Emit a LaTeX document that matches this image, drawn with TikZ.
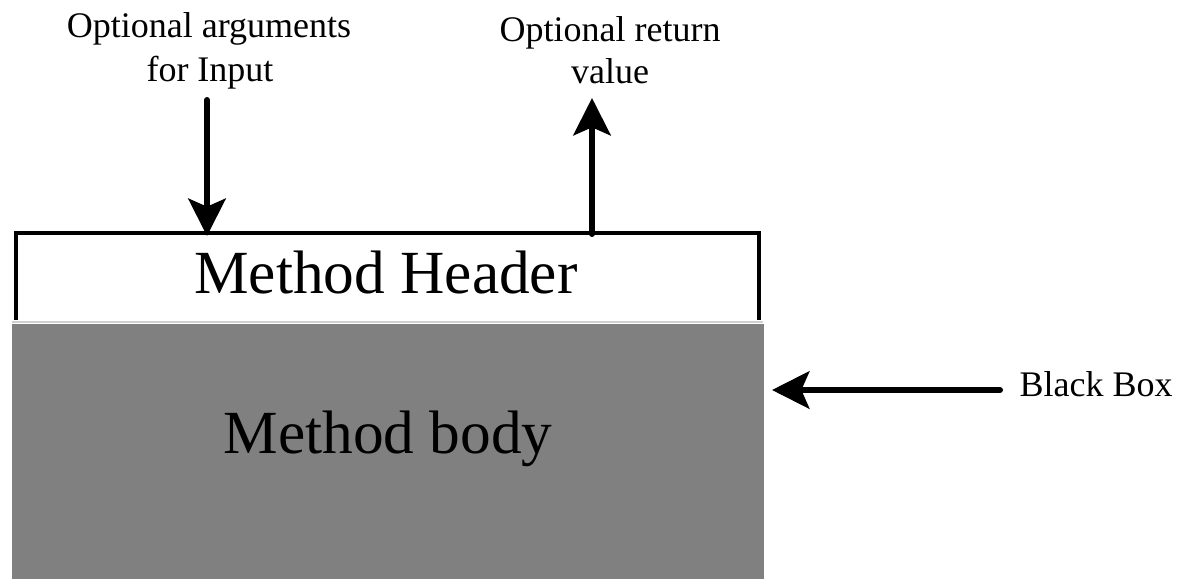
\documentclass[tikz,border=0pt]{standalone}
\usepackage{fontspec}
\setmainfont{Liberation Serif}
\usetikzlibrary{arrows.meta}
\definecolor{bodygray}{HTML}{808080}
\definecolor{sepgray}{HTML}{D0D0D0}
\tikzset{
  lbl/.style={anchor=base, inner sep=0pt, font=\fontsize{27}{33}\selectfont},
  big/.style={anchor=base, inner sep=0pt, font=\fontsize{46}{55}\selectfont},
  bigarrow/.style={line width=4.5pt, line cap=round, -{Stealth[length=28pt, width=28pt, inset=6pt]}},
  frame/.style={line width=2.3pt, line join=miter}
}
\begin{document}
\begin{tikzpicture}[x=0.75pt,y=-0.75pt]
\useasboundingbox (0,0) rectangle (1180,579);
% body
\fill[bodygray] (12,324) rectangle (764,579);
\node (body) at (388,453) [big] {Method body};
% header frame
\draw[frame] (16,320) -- (16,233) -- (759,233) -- (759,320);
\draw[sepgray, line width=1.5pt] (12,321.5) -- (763,321.5);
\node (header) at (386,293) [big] {Method Header};
% labels
\node (in1) at (209,37) [lbl] {Optional arguments};
\node (in2) at (210,81) [lbl] {for Input};
\node (out1) at (610,41) [lbl] {Optional return};
\node (out2) at (610,83) [lbl] {value};
\node (bb) at (1096,396) [lbl] {Black Box};
% arrow coordinates
\coordinate (inS) at (207,100);
\coordinate (inE) at (207,236);
\coordinate (outS) at (592,234);
\coordinate (outE) at (592,98);
\coordinate (bbS) at (1000,390);
\coordinate (bbE) at (772,390);
\draw[bigarrow] (inS) -- (inE);
\draw[bigarrow] (outS) -- (outE);
\draw[bigarrow] (bbS) -- (bbE);
\end{tikzpicture}
\end{document}
